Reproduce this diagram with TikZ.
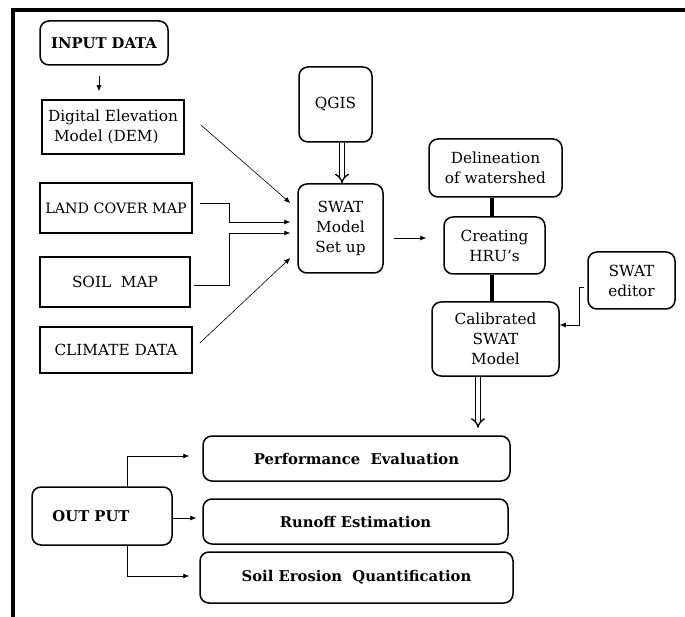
\documentclass[tikz,border=0pt]{standalone}
\usepackage{fontspec}
\setmainfont{DejaVu Serif}
\usetikzlibrary{arrows.meta,calc}
\begin{document}
\begin{tikzpicture}[x=1pt,y=-1pt,
  every node/.style={font=\fontsize{15.3}{20}\selectfont, inner sep=0pt, align=center},
  rbox/.style={draw, line width=1.5pt, rounded corners=9pt},
  sbox/.style={draw, line width=1.7pt},
  bfont/.style={font=\fontsize{14.8}{18}\selectfont\bfseries},
  arr/.style={line width=0.6pt, -{Latex[length=6pt,width=5pt]}},
  hollow/.style={double=white, double distance=3.5pt, line width=1.3pt, -{Implies[length=5pt]}},
  thick bar/.style={line width=4pt},
]
\useasboundingbox (0,0) rectangle (685,617);
\fill[white] (0,0) rectangle (685,617);
\draw[line width=3.5pt] (690,10) -- (13,10) -- (13,622);

\node[rbox, bfont, minimum width=128pt, minimum height=44pt] (inp) at (104,43) {INPUT DATA};
\node[sbox, minimum width=142pt, minimum height=54pt, align=left] (dem) at (113,127) {Digital Elevation\\\hspace*{6pt}Model (DEM)};
\node[sbox, minimum width=152pt, minimum height=50pt] (land) at (116,208) {\fontsize{14.3}{18}\selectfont LAND COVER MAP};
\node[sbox, minimum width=150pt, minimum height=50pt] (soil) at (115,282) {SOIL\ \ MAP};
\node[sbox, minimum width=152pt, minimum height=46pt] (clim) at (116,350) {CLIMATE DATA};
\node[rbox, minimum width=73pt, minimum height=75pt] (qgis) at (335.5,104.5) {QGIS};
\node[rbox, minimum width=85pt, minimum height=89pt] (swat) at (340.5,228.5) {SWAT\\Model\\Set up};
\node[rbox, minimum width=133pt, minimum height=58pt] (del) at (495.5,168) {Delineation\\of watershed};
\node[rbox, minimum width=101pt, minimum height=57pt] (hru) at (494.5,245.5) {Creating\\HRU’s};
\node[rbox, minimum width=127pt, minimum height=74pt] (cal) at (495.5,339) {Calibrated\\SWAT\\Model};
\node[rbox, minimum width=87pt, minimum height=57pt] (edit) at (631.5,280.5) {SWAT\\editor};
\node[rbox, bfont, minimum width=307pt, minimum height=45pt] (perf) at (356.5,458.5) {Performance\ \ Evaluation};
\node[rbox, bfont, minimum width=305pt, minimum height=45pt] (run) at (355.5,521.5) {Runoff Estimation};
\node[rbox, bfont, minimum width=313pt, minimum height=51pt] (soilq) at (356.5,577.5) {Soil Erosion\ \ Quantification};
\node[rbox, bfont, minimum width=140pt, minimum height=58pt] (out) at (102,516) {OUT PUT\hspace*{22pt}};

% coordinates for vertical connectors
\coordinate (q1) at ($(qgis.south)+(6.5,0)$);
\coordinate (d1) at ($(del.south)+(-4,0)$);
\coordinate (h1) at ($(hru.south)+(-2.5,0)$);
\coordinate (c1) at ($(cal.south)+(-17.5,0)$);
\coordinate (c2) at ($(c1)+(0,51)$);
\coordinate (e1) at ($(edit.west)+(-3,6.5)$);
\coordinate (e2) at ($(cal.east)+(0,-14)$);

% input arrow
\draw[arr] ($(inp.south)+(-5,10)$) -- ($(dem.north)+(-14,-8)$);
% to SWAT
\draw[arr] ($(dem.east)+(16,-2)$) -- ($(swat.west)+(-7,-25.5)$);
\draw[arr] ($(land.east)+(7,-5)$) -- ++(29,0) |- ($(swat.west)+(-7,-6.5)$);
\draw[arr] ($(soil.east)+(3,3)$) -- ++(35,0) |- ($(swat.west)+(-7,4.5)$);
\draw[arr] ($(clim.east)+(7,-7)$) -- ($(swat.west)+(-7,29.5)$);
\draw[hollow] (q1) -- (q1 |- swat.north);
\draw[arr] ($(swat.east)+(10,9.5)$) -- ($(hru.west)+(-17,-7.5)$);
\draw[thick bar] (d1) -- (d1 |- hru.north);
\draw[thick bar] (h1) -- (h1 |- cal.north);
\draw[arr] (e1) -- ++(-5,0) |- (e2);
\draw[hollow] (c1) -- (c2);
% outputs
\draw[arr] ($(out.north)+(25,0)$) |- ($(perf.west)+(-13,-2.5)$);
\draw[arr] ($(out.east)+(0,2)$) -- ($(run.west)+(-6,-3.5)$);
\draw[arr] ($(out.south)+(25,0)$) |- ($(soilq.west)+(-10,-1.5)$);
\end{tikzpicture}
\end{document}
